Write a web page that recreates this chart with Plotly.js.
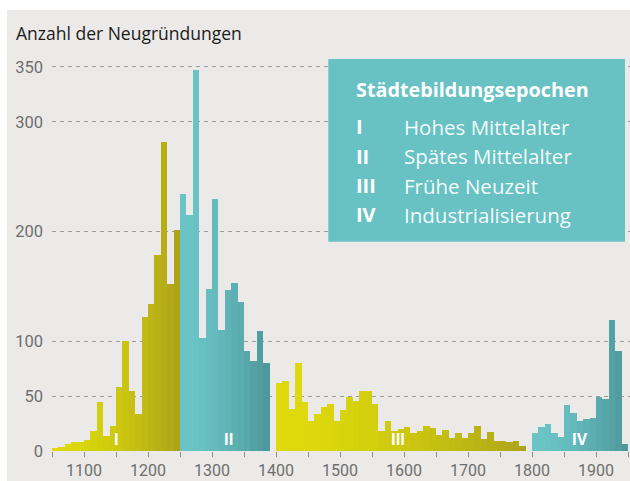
<!DOCTYPE html>
<html>
<head>
<meta charset="utf-8">
<script src="https://cdn.plot.ly/plotly-3.0.1.min.js"></script>
<style>
html,body{margin:0;padding:0;background:#ffffff;}
#chart{position:absolute;left:7px;top:10px;width:623px;height:471px;}
</style>
</head>
<body>
<div id="chart"></div>
<script>
// ---- Data (decade start year -> number of new town foundations) ----
const decadesI   = [1050,1060,1070,1080,1090,1100,1110,1120,1130,1140,1150,1160,1170,1180,1190,1200,1210,1220,1230,1240];
const valuesI    = [3,4,6,8,8,10,18,45,14,23,58,100,55,34,122,134,179,282,152,201];

const decadesII  = [1250,1260,1270,1280,1290,1300,1310,1320,1330,1340,1350,1360,1370,1380];
const valuesII   = [234,215,347,103,148,230,110,147,153,136,91,82,109,80];

const decadesIII = [1400,1410,1420,1430,1440,1450,1460,1470,1480,1490,1500,1510,1520,1530,1540,1550,1560,1570,1580,1590,
                    1600,1610,1620,1630,1640,1650,1660,1670,1680,1690,1700,1710,1720,1730,1740,1750,1760,1770,1780];
const valuesIII  = [62,64,38,80,45,27,34,40,43,27,37,49,46,55,55,43,18,27,18,20,
                    22,16,18,23,21,15,19,12,16,12,16,23,11,17,9,9,8,9,5];

const decadesIV  = [1800,1810,1820,1830,1840,1850,1860,1870,1880,1890,1900,1910,1920,1930,1940];
const valuesIV   = [16,22,25,16,13,42,35,27,29,30,49,47,119,91,6];

const epochNumerals = ["I","II","III","IV"];
const epochNames    = ["Hohes Mittelalter","Spätes Mittelalter","Frühe Neuzeit","Industrialisierung"];
const epochLabelX   = [1150,1325,1590,1875];
const legendTitle   = "Städtebildungsepochen";
const yTickVals     = [0,50,100,200,300,350];
const xTickVals     = [1100,1200,1300,1400,1500,1600,1700,1800,1900];
const yTitle        = "Anzahl der Neugründungen";

// ---- Styling ----
const FONT = "Roboto, 'Open Sans', sans-serif";
const FONT2 = "'Open Sans', Roboto, sans-serif";
const YELLOW = [[222,218,10],[174,164,26]];
const TEAL   = [[106,196,198],[78,152,155]];

function grad(pair, n){
  const out=[];
  for(let i=0;i<n;i++){
    const t = n>1 ? Math.pow(i/(n-1),1.6) : 0;
    const c = pair[0].map((v,k)=>Math.round(v+(pair[1][k]-v)*t));
    out.push(`rgb(${c[0]},${c[1]},${c[2]})`);
  }
  return out;
}

function barTrace(x, y, pair, name){
  return {
    type:'bar', x:x, y:y, name:name,
    offset:0, width:10,
    marker:{color:grad(pair, x.length), line:{width:0}},
    hoverinfo:'x+y', showlegend:false
  };
}

const traces = [
  barTrace(decadesI,   valuesI,   YELLOW, epochNames[0]),
  barTrace(decadesII,  valuesII,  TEAL,   epochNames[1]),
  barTrace(decadesIII, valuesIII, YELLOW, epochNames[2]),
  barTrace(decadesIV,  valuesIV,  TEAL,   epochNames[3])
];

// page-pixel helpers for placing the legend box (plot area: x 52..630, y 56..451)
const PL=52, PR=630, PT=56, PB=451;
const px = x => (x-PL)/(PR-PL);
const py = y => (PB-y)/(PB-PT);

const annotations = [];
annotations.push({
  text:yTitle, xref:'paper', yref:'paper', x:px(14), y:py(33), xanchor:'left', yanchor:'middle',
  showarrow:false, font:{family:FONT2, size:17.5, color:'#1c1c1c'}
});
annotations.push({
  text:'<b>'+legendTitle+'</b>', xref:'paper', yref:'paper', x:px(354), y:py(89), xanchor:'left', yanchor:'middle',
  showarrow:false, font:{family:FONT2, size:19.8, color:'#ffffff'}
});
const rowY=[127,156,185.5,214.5];
epochNumerals.forEach((n,i)=>{
  annotations.push({text:'<b>'+n+'</b>', xref:'paper', yref:'paper', x:px(354), y:py(rowY[i]), xanchor:'left', yanchor:'middle',
    showarrow:false, font:{family:FONT2, size:20, color:'#ffffff'}});
  annotations.push({text:epochNames[i], xref:'paper', yref:'paper', x:px(402), y:py(rowY[i]), xanchor:'left', yanchor:'middle',
    showarrow:false, font:{family:FONT2, size:20.5, color:'rgba(255,255,255,0.95)'}});
  annotations.push({text:'<b>'+n+'</b>', xref:'x', yref:'y', x:epochLabelX[i], y:0, xanchor:'center', yanchor:'bottom',
    showarrow:false, font:{family:FONT, size:16, color:'#ffffff'}});
});

const layout = {
  width:623, height:471,
  margin:{l:45, r:0, t:46, b:30},
  paper_bgcolor:'#ebeae8', plot_bgcolor:'rgba(0,0,0,0)',
  barmode:'overlay', bargap:0,
  font:{family:FONT},
  xaxis:{
    range:[1050,1953], tickvals:xTickVals, ticktext:xTickVals.map(String),
    ticks:'outside', ticklen:5, tickwidth:1, tickcolor:'#8c8c8c',
    minor:{tick0:1050, dtick:50, ticks:'outside', ticklen:5, tickwidth:1, tickcolor:'#8c8c8c', showgrid:false},
    showgrid:false, zeroline:false, showline:false, ticklabelstandoff:0,
    tickfont:{family:FONT, size:16, color:'#6e6e6e'}, fixedrange:true
  },
  yaxis:{
    range:[0,360], tickvals:yTickVals, ticktext:yTickVals.map(String),
    ticks:'', showgrid:true, gridcolor:'#9b9b9b', gridwidth:1, griddash:'4px,4px',
    zeroline:false, showline:false, ticklabelstandoff:8,
    tickfont:{family:FONT, size:16.5, color:'#6e6e6e'}, fixedrange:true
  },
  shapes:[{
    type:'rect', xref:'paper', yref:'paper', x0:px(328.3), x1:px(625), y0:py(241.7), y1:py(59),
    fillcolor:'#68c2c4', line:{width:0}, layer:'above'
  }],
  annotations:annotations
};

Plotly.newPlot('chart', traces, layout, {displayModeBar:false, staticPlot:true});
</script>
</body>
</html>
